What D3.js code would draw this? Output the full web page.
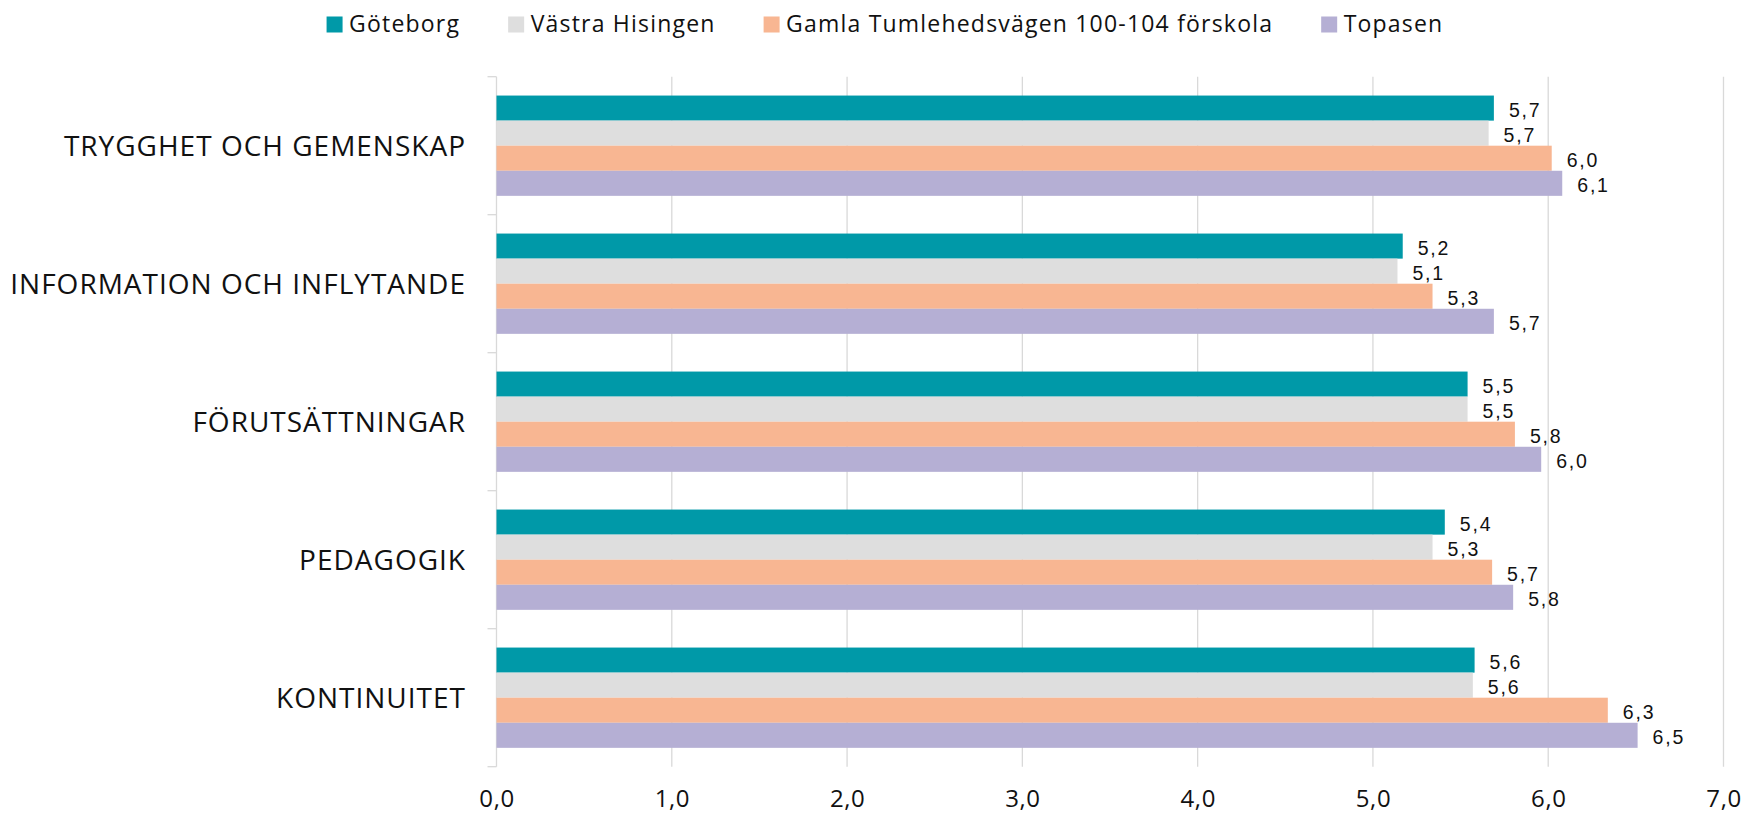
<!DOCTYPE html>
<html>
<head>
<meta charset="utf-8">
<script src="https://cdn.jsdelivr.net/npm/d3@7"></script>
<style>
  html, body { margin: 0; padding: 0; background: #fff; }
  svg { display: block; }
</style>
</head>
<body>
<svg id="chart" width="1744" height="814"></svg>
<script>
const categories = ["TRYGGHET OCH GEMENSKAP", "INFORMATION OCH INFLYTANDE", "FÖRUTSÄTTNINGAR", "PEDAGOGIK", "KONTINUITET"];
const seriesNames = ["Göteborg", "Västra Hisingen", "Gamla Tumlehedsvägen 100-104 förskola", "Topasen"];
const seriesColors = ["#0099A8", "#DEDEDE", "#F8B692", "#B5AFD4"];
const goteborg = [5.69, 5.17, 5.54, 5.41, 5.58];
const vastraHisingen = [5.66, 5.14, 5.54, 5.34, 5.57];
const gamlaTumlehedsvagen = [6.02, 5.34, 5.81, 5.68, 6.34];
const topasen = [6.08, 5.69, 5.96, 5.80, 6.51];
const xTicks = [0, 1, 2, 3, 4, 5, 6, 7];
const xTickLabels = ["0,0", "1,0", "2,0", "3,0", "4,0", "5,0", "6,0", "7,0"];

const seriesValues = [goteborg, vastraHisingen, gamlaTumlehedsvagen, topasen];
const rows = categories.map((c, i) => ({
  category: c,
  values: seriesNames.map((s, j) => ({ series: s, idx: j, value: seriesValues[j][i] }))
}));

const svg = d3.select("#chart");
const plotLeft = 496.5, plotRight = 1723.5, plotTop = 76.7, plotBottom = 766.7;

const x = d3.scaleLinear().domain([0, 7]).range([plotLeft, plotRight]);
const y0 = d3.scaleBand().domain(categories).range([plotTop, plotBottom]).padding(0);
const y1 = d3.scaleBand().domain(seriesNames).range([0, y0.bandwidth()]).paddingInner(0).paddingOuter(0.752);

const gridColor = "#D9D9D9";

// gridlines
svg.append("g").selectAll("line").data(xTicks.slice(1)).join("line")
  .attr("x1", d => x(d)).attr("x2", d => x(d))
  .attr("y1", plotTop).attr("y2", plotBottom)
  .attr("stroke", gridColor).attr("stroke-width", 1.3);

// left axis line + category ticks
svg.append("line").attr("x1", plotLeft).attr("x2", plotLeft).attr("y1", plotTop).attr("y2", plotBottom)
  .attr("stroke", gridColor).attr("stroke-width", 1.3);
const bounds = categories.map(c => y0(c)).concat([plotBottom]);
svg.append("g").selectAll("line").data(bounds).join("line")
  .attr("x1", plotLeft - 9).attr("x2", plotLeft).attr("y1", d => d).attr("y2", d => d)
  .attr("stroke", gridColor).attr("stroke-width", 1.3);

// bars
const groups = svg.append("g").selectAll("g").data(rows).join("g")
  .attr("transform", d => `translate(0,${y0(d.category)})`);
groups.selectAll("rect").data(d => d.values).join("rect")
  .attr("x", x(0))
  .attr("y", d => y1(d.series))
  .attr("width", d => x(d.value) - x(0))
  .attr("height", y1.bandwidth())
  .attr("fill", d => seriesColors[d.idx]);

// value labels
groups.selectAll("text").data(d => d.values).join("text")
  .attr("x", d => x(d.value) + 15)
  .attr("y", d => y1(d.series) + y1.bandwidth() / 2 + 8.8)
  .attr("font-family", "'Liberation Sans', Arial, sans-serif")
  .attr("font-size", 19.5)
  .attr("letter-spacing", 1.8)
  .attr("fill", "#111")
  .text(d => d.value.toFixed(1).replace(".", ","));

// category labels
svg.append("g").selectAll("text").data(categories).join("text")
  .attr("x", 466)
  .attr("y", d => y0(d) + y0.bandwidth() / 2 + 10)
  .attr("text-anchor", "end")
  .attr("font-family", "'Open Sans', sans-serif")
  .attr("font-size", 28)
  .attr("letter-spacing", 1)
  .attr("fill", "#111")
  .text(d => d);

// x tick labels
svg.append("g").selectAll("text").data(xTicks).join("text")
  .attr("x", d => x(d) + 0.6)
  .attr("y", 807)
  .attr("text-anchor", "middle")
  .attr("font-family", "'Open Sans', sans-serif")
  .attr("font-size", 24)
  .attr("letter-spacing", 0.6)
  .attr("fill", "#111")
  .text((d, i) => xTickLabels[i]);

// legend
const legend = svg.append("g");
const items = legend.selectAll("g").data(seriesNames).join("g");
items.append("rect").attr("x", 0).attr("y", 16.5).attr("width", 16).attr("height", 16)
  .attr("fill", (d, i) => seriesColors[i]);
items.append("text").attr("x", 22.5).attr("y", 31.7)
  .attr("font-family", "'Open Sans', sans-serif")
  .attr("font-size", 23)
  .attr("letter-spacing", 1.2)
  .attr("fill", "#111")
  .text(d => d);
let pos = 0;
const offsets = [];
items.each(function() {
  offsets.push(pos);
  const w = d3.select(this).select("text").node().getComputedTextLength();
  pos += 22.5 + w + 48;
});
items.attr("transform", (d, i) => `translate(${offsets[i]},0)`);
const totalW = pos - 48;
legend.attr("transform", `translate(${885 - totalW / 2},0)`);
</script>
</body>
</html>
